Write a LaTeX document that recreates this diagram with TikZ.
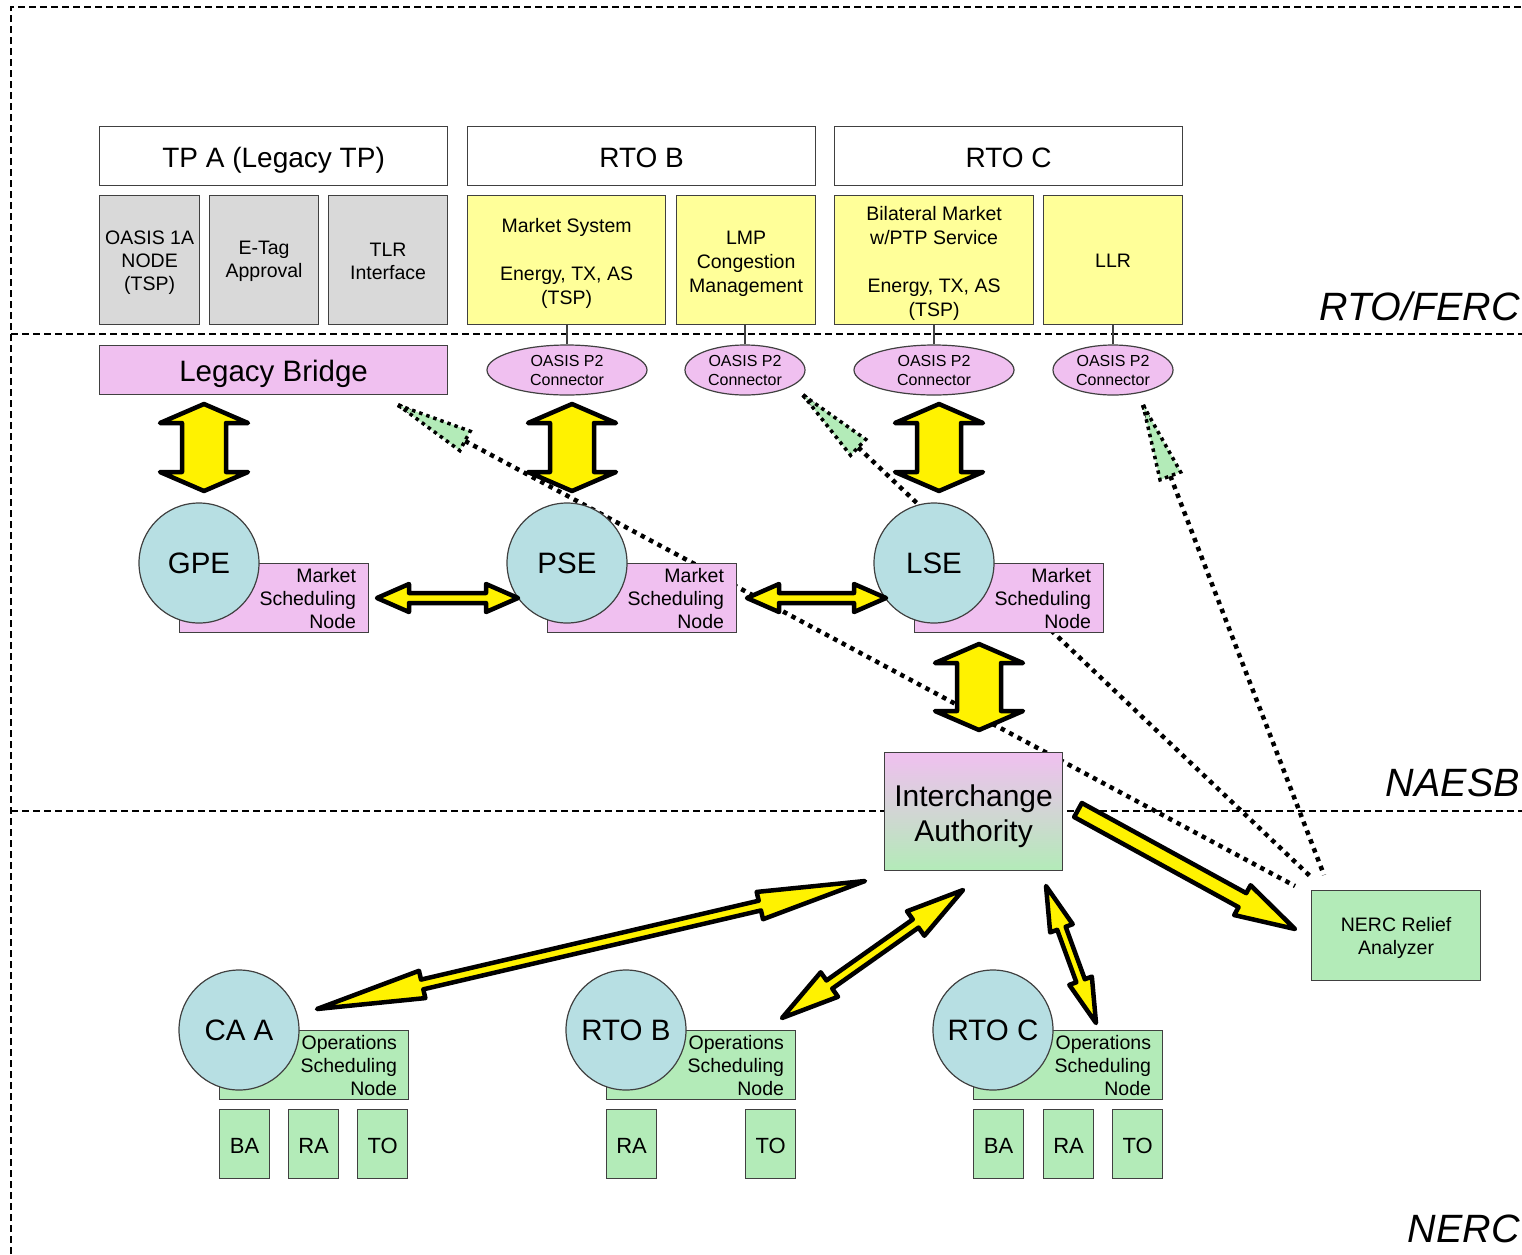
\documentclass[tikz,border=0pt]{standalone}
\usepackage{fontspec}
\setmainfont{Liberation Sans}
\usetikzlibrary{calc,shapes.geometric}
\definecolor{pinkf}{RGB}{240,192,240}
\definecolor{greenf}{RGB}{179,235,184}
\definecolor{bluef}{RGB}{183,223,227}
\definecolor{yelf}{RGB}{255,255,153}
\definecolor{grayf}{RGB}{217,217,217}
\definecolor{edge}{RGB}{64,64,64}
\newcommand{\fs}[2]{\fontsize{#1}{#2}\selectfont}
\newcommand{\fatdbl}[5]{%
 \draw[fat] (#1)
 -- ($($(#1)!#5!(#2)$)!#4!90:(#2)$)
 -- ($($(#1)!#5!(#2)$)!#3!90:(#2)$)
 -- ($($(#2)!#5!(#1)$)!#3!-90:(#1)$)
 -- ($($(#2)!#5!(#1)$)!#4!-90:(#1)$)
 -- (#2)
 -- ($($(#2)!#5!(#1)$)!#4!90:(#1)$)
 -- ($($(#2)!#5!(#1)$)!#3!90:(#1)$)
 -- ($($(#1)!#5!(#2)$)!#3!-90:(#2)$)
 -- ($($(#1)!#5!(#2)$)!#4!-90:(#2)$)
 -- cycle;}
\newcommand{\fatsgl}[5]{%
 \draw[fat] ($(#1)!#3!90:(#2)$)
 -- ($($(#2)!#5!(#1)$)!#3!-90:(#1)$)
 -- ($($(#2)!#5!(#1)$)!#4!-90:(#1)$)
 -- (#2)
 -- ($($(#2)!#5!(#1)$)!#4!90:(#1)$)
 -- ($($(#2)!#5!(#1)$)!#3!90:(#1)$)
 -- ($(#1)!#3!-90:(#2)$)
 -- cycle;}
\newcommand{\ghd}[4]{%
 \draw[ghead] (#1) -- ($($(#1)!#3!(#2)$)!#4!90:(#2)$) -- ($($(#1)!#3!(#2)$)!#4!-90:(#2)$) -- cycle;}
\tikzset{
 box/.style={draw=edge, line width=1.2pt, inner sep=0pt, anchor=north west, align=center},
 lbl/.style={align=center, inner sep=0pt},
 hdr/.style={box, fill=white, minimum width=348pt, minimum height=59pt},
 htext/.style={lbl, font=\fs{28}{34}},
 graybox/.style={box, fill=grayf, minimum height=129pt},
 gtext/.style={lbl, font=\fs{19.5}{23}, yshift=-3pt},
 yelbox/.style={box, fill=yelf, minimum height=129pt},
 ytext/.style={lbl, font=\fs{19.5}{24}, yshift=-3pt},
 conn/.style={ellipse, draw=edge, line width=1.2pt, fill=pinkf, inner sep=0pt, minimum height=50pt, font=\fs{16}{19}, align=center},
 circ/.style={circle, draw=edge, line width=1.2pt, fill=bluef, minimum size=120pt, inner sep=0pt, font=\fs{29.5}{34}},
 msn/.style={box, fill=pinkf, minimum width=189pt, minimum height=69pt},
 osn/.style={box, fill=greenf, minimum width=189pt, minimum height=69pt},
 sidetext/.style={anchor=east, align=right, font=\fs{19.5}{23}, inner sep=0pt},
 smallbox/.style={box, fill=greenf, minimum width=50pt, minimum height=69pt},
 stext/.style={lbl, font=\fs{22}{26}, yshift=-2pt},
 fat/.style={draw=black, fill=yellow, line width=4.5pt, line join=round},
 dots/.style={line width=4.5pt, dash pattern=on 4.5pt off 5pt},
 ghead/.style={fill=greenf, line width=3.5pt, dash pattern=on 3.5pt off 4pt},
 sep/.style={line width=2pt, dash pattern=on 7pt off 4pt},
 zone/.style={font=\fs{39.5}{46}\itshape, anchor=base east, inner sep=0pt},
 thinl/.style={draw=edge, line width=1.2pt},
}
\begin{document}
\begin{tikzpicture}[x=1pt,y=-1pt]
\useasboundingbox (0,0) rectangle (1522,1254);
% frame and separators
\draw[sep] (11,1254) -- (11,7) -- (1522,7);
\draw[sep] (11,334) -- (1522,334);
\draw[sep] (11,811) -- (1522,811);
\node[zone] (lz1) at (1520,320) {RTO/FERC};
\node[zone] (lz2) at (1520,796) {NAESB};
\node[zone] (lz3) at (1520,1242) {NERC};
% dotted relief lines
\coordinate (d1a) at (398,405); \coordinate (d1b) at (1295,886);
\coordinate (d2a) at (803,395); \coordinate (d2b) at (1311,877);
\coordinate (d3a) at (1143,405); \coordinate (d3b) at (1324,875);
\draw[dots] (d1a) -- (d1b);
\draw[dots] (d2a) -- (d2b);
\draw[dots] (d3a) -- (d3b);
\ghd{d1a}{d1b}{76pt}{11pt}
\ghd{d2a}{d2b}{76pt}{11pt}
\ghd{d3a}{d3b}{76pt}{11pt}
% top headers
\node[hdr, label={[htext, yshift=-4pt]center:{TP A (Legacy TP)}}] (tpa) at (99,126) {};
\node[hdr, label={[htext, yshift=-2pt]center:{RTO B}}] (rtob) at (467,126) {};
\node[hdr, label={[htext, yshift=-2pt]center:{RTO C}}] (rtoc) at (834,126) {};
% function boxes
\node[graybox, minimum width=100pt, label={[gtext]center:{OASIS 1A\\NODE\\(TSP)}}] (oasis) at (99,195) {};
\node[graybox, minimum width=109pt, label={[gtext, yshift=1.5pt]center:{E-Tag\\Approval}}] (etag) at (209,195) {};
\node[graybox, minimum width=119pt, label={[gtext, yshift=2pt]center:{TLR\\Interface}}] (tlr) at (328,195) {};
\node[yelbox, minimum width=198pt, label={[ytext]center:{Market System\\[24pt]Energy, TX, AS\\(TSP)}}] (mkt) at (467,195) {};
\node[yelbox, minimum width=139pt, label={[ytext, yshift=-1pt]center:{LMP\\Congestion\\Management}}] (lmp) at (676,195) {};
\node[yelbox, minimum width=199pt, label={[ytext]center:{Bilateral Market\\w/PTP Service\\[24pt]Energy, TX, AS\\(TSP)}}] (bil) at (834,195) {};
\node[yelbox, minimum width=139pt, label={[ytext, yshift=2pt]center:{LLR}}] (llr) at (1043,195) {};
% bridge and connectors
\node[box, fill=pinkf, minimum width=348pt, minimum height=49pt, label={[lbl, font=\fs{29.5}{34}, yshift=-4pt]center:{Legacy Bridge}}] (lb) at (99,345) {};
\node[conn, minimum width=160pt] (c1) at (567,370) {OASIS P2\\Connector};
\node[conn, minimum width=120pt] (c2) at (745,370) {OASIS P2\\Connector};
\node[conn, minimum width=160pt] (c3) at (934,370) {OASIS P2\\Connector};
\node[conn, minimum width=120pt] (c4) at (1113,370) {OASIS P2\\Connector};
\draw[thinl] (c1.north) -- (c1.north |- mkt.south);
\draw[thinl] (c2.north) -- (c2.north |- lmp.south);
\draw[thinl] (c3.north) -- (c3.north |- bil.south);
\draw[thinl] (c4.north) -- (c4.north |- llr.south);
% market scheduling nodes
\node[msn] (gpem) at (179,563) {};
\node[circ] (gpe) at (199,563) {GPE};
\node[sidetext] at ([xshift=-13pt]gpem.east) {Market\\Scheduling\\Node};
\node[msn] (psem) at (547,563) {};
\node[circ] (pse) at (567,563) {PSE};
\node[sidetext] at ([xshift=-13pt]psem.east) {Market\\Scheduling\\Node};
\node[msn] (lsem) at (914,563) {};
\node[circ] (lse) at (934,563) {LSE};
\node[sidetext] at ([xshift=-13pt]lsem.east) {Market\\Scheduling\\Node};
% interchange authority and analyzer
\node[box, top color=pinkf, bottom color=greenf, minimum width=178pt, minimum height=118pt, label={[lbl, font=\fs{30}{35}, yshift=-4.5pt]center:{Interchange\\Authority}}] (ia) at (884,752) {};
\node[box, fill=greenf, minimum width=169pt, minimum height=90pt, label={[lbl, font=\fs{19.5}{23}, yshift=-2pt]center:{NERC Relief\\Analyzer}}] (nra) at (1311,890) {};
% operations scheduling nodes
\node[osn] (caam) at (219,1030) {};
\node[circ] (caa) at (239,1030) {CA A};
\node[sidetext] at ([xshift=-12pt]caam.east) {Operations\\Scheduling\\Node};
\node[osn] (rbm) at (606,1030) {};
\node[circ] (rb) at (626,1030) {RTO B};
\node[sidetext] at ([xshift=-12pt]rbm.east) {Operations\\Scheduling\\Node};
\node[osn] (rcm) at (973,1030) {};
\node[circ] (rc) at (993,1030) {RTO C};
\node[sidetext] at ([xshift=-12pt]rcm.east) {Operations\\Scheduling\\Node};
\node[smallbox, label={[stext]center:BA}] (ba1) at (219,1109) {};
\node[smallbox, label={[stext]center:RA}] (ra1) at (288,1109) {};
\node[smallbox, label={[stext]center:TO}] (to1) at (357,1109) {};
\node[smallbox, label={[stext]center:RA}] (ra2) at (606,1109) {};
\node[smallbox, label={[stext]center:TO}] (to2) at (745,1109) {};
\node[smallbox, label={[stext]center:BA}] (ba3) at (973,1109) {};
\node[smallbox, label={[stext]center:RA}] (ra3) at (1043,1109) {};
\node[smallbox, label={[stext]center:TO}] (to3) at (1112,1109) {};
% fat arrows
\coordinate (v1a) at (204,404); \coordinate (v1b) at (204,491);
\coordinate (v2a) at (572,404); \coordinate (v2b) at (572,491);
\coordinate (v3a) at (939,404); \coordinate (v3b) at (939,491);
\coordinate (v4a) at (979,644); \coordinate (v4b) at (979,730);
\fatdbl{v1a}{v1b}{22pt}{44pt}{19pt}
\fatdbl{v2a}{v2b}{22pt}{44pt}{19pt}
\fatdbl{v3a}{v3b}{22pt}{44pt}{19pt}
\fatdbl{v4a}{v4b}{22pt}{44pt}{19pt}
\coordinate (h1a) at (377,598); \coordinate (h1b) at (518,598);
\coordinate (h2a) at (747,598); \coordinate (h2b) at (886,598);
\fatdbl{h1a}{h1b}{5pt}{14pt}{32pt}
\fatdbl{h2a}{h2b}{5pt}{14pt}{32pt}
\coordinate (k1a) at (317,1009); \coordinate (k1b) at (865,881);
\coordinate (k2a) at (782,1018); \coordinate (k2b) at (963,890);
\coordinate (k3a) at (1046,886); \coordinate (k3b) at (1096,1023);
\fatdbl{k1a}{k1b}{5pt}{14pt}{108pt}
\fatdbl{k2a}{k2b}{5pt}{15pt}{58pt}
\fatdbl{k3a}{k3b}{4.5pt}{12pt}{45pt}
\coordinate (s1a) at (1078,810); \coordinate (s1b) at (1295,929);
\fatsgl{s1a}{s1b}{8pt}{17pt}{60pt}
\end{tikzpicture}
\end{document}
